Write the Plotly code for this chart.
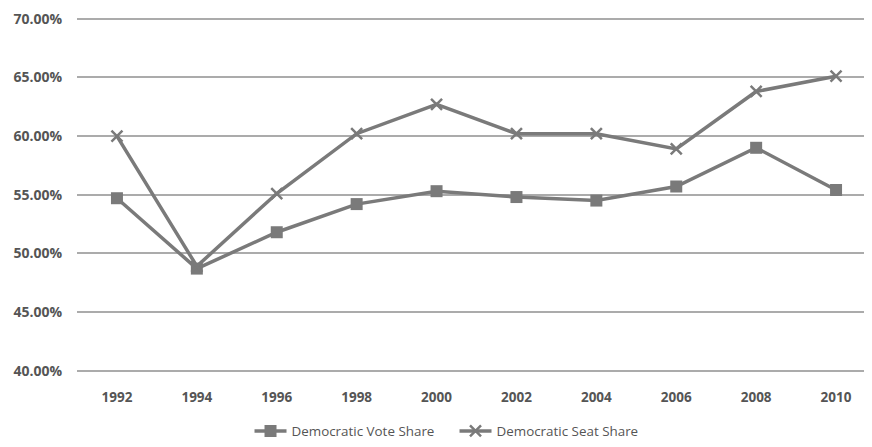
import plotly.graph_objects as go

years = ["1992", "1994", "1996", "1998", "2000", "2002", "2004", "2006", "2008", "2010"]
vote_share = [0.547, 0.487, 0.518, 0.542, 0.553, 0.548, 0.545, 0.557, 0.590, 0.554]
seat_share = [0.600, 0.489, 0.551, 0.602, 0.627, 0.602, 0.602, 0.589, 0.638, 0.651]
y_ticks = [0.40, 0.45, 0.50, 0.55, 0.60, 0.65, 0.70]

line_color = "#7a7a7a"
text_color = "#555555"
font_family = "Open Sans, Liberation Sans, sans-serif"

fig = go.Figure()
fig.add_trace(go.Scatter(
    x=years, y=vote_share, name="Democratic Vote Share", mode="lines+markers",
    line=dict(color=line_color, width=3.5),
    marker=dict(symbol="square", size=12, color=line_color),
))
fig.add_trace(go.Scatter(
    x=years, y=seat_share, name="Democratic Seat Share", mode="lines+markers",
    line=dict(color=line_color, width=3.5),
    marker=dict(symbol="x-thin", size=11, color=line_color, line=dict(width=2.5, color=line_color)),
))

fig.update_layout(
    width=864, height=439,
    margin=dict(l=69, r=0, t=9, b=71),
    paper_bgcolor="white", plot_bgcolor="white",
    font=dict(family=font_family, size=13, color=text_color),
    showlegend=True,
    legend=dict(orientation="h", x=0.217, xanchor="left", y=-0.12, yanchor="top",
                font=dict(size=13.4, color=text_color), itemwidth=32,
                entrywidth=158, entrywidthmode="pixels"),
    xaxis=dict(type="category", range=[-0.5, 9.45], showgrid=False, showline=False,
               ticks="", automargin=False, ticklabelstandoff=14,
               tickfont=dict(size=13.5, color=text_color, weight="bold")),
    yaxis=dict(range=[0.398, 0.7015], tickvals=y_ticks, tickformat=".2%",
               showgrid=True, gridcolor="#ababab", gridwidth=2, zeroline=False,
               showline=False, ticks="", ticklabelstandoff=14, automargin=False,
               tickfont=dict(size=14, color=text_color, weight="bold")),
)

fig.write_html("out.html")
